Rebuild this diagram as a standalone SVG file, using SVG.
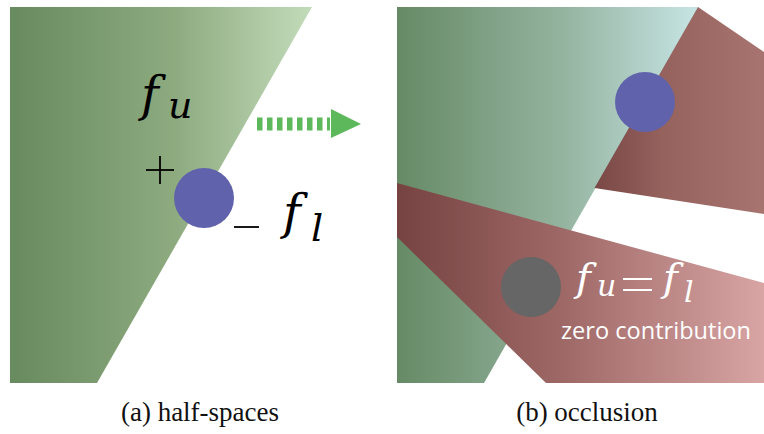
<svg xmlns="http://www.w3.org/2000/svg" width="764" height="434" viewBox="0 0 764 434">
  <defs>
    <linearGradient id="gA" gradientUnits="userSpaceOnUse" x1="10" y1="0" x2="312" y2="0">
      <stop offset="0" stop-color="#678a5e"/>
      <stop offset="0.55" stop-color="#8eab80"/>
      <stop offset="1" stop-color="#c2dcba"/>
    </linearGradient>
    <linearGradient id="gB" gradientUnits="userSpaceOnUse" x1="397" y1="0" x2="702" y2="0">
      <stop offset="0" stop-color="#668a65"/>
      <stop offset="0.55" stop-color="#95b4a0"/>
      <stop offset="1" stop-color="#c8e6e6"/>
    </linearGradient>
    <linearGradient id="rUp" gradientUnits="userSpaceOnUse" x1="596" y1="0" x2="764" y2="0">
      <stop offset="0" stop-color="#7a4845"/>
      <stop offset="0.4" stop-color="#95625e"/>
      <stop offset="1" stop-color="#a87470"/>
    </linearGradient>
    <linearGradient id="rLo" gradientUnits="userSpaceOnUse" x1="397" y1="0" x2="764" y2="0">
      <stop offset="0" stop-color="#764342"/>
      <stop offset="0.45" stop-color="#9e6866"/>
      <stop offset="1" stop-color="#d8a5a4"/>
    </linearGradient>
  </defs>
  <style>
    .math { font-family: "DejaVu Serif", "Liberation Serif", serif; font-style: italic; }
    .cap { font-family: "Liberation Serif", "DejaVu Serif", serif; font-size: 27px; fill: #111; }
    .sym { stroke: #000; stroke-width: 1.8; fill: none; }
  </style>

  <g id="panel-a">
    <g id="halfspace-a">
      <polygon points="10,7 312,7 97,383 10,383" fill="url(#gA)"/>
    </g>
    <g id="point-a">
      <circle cx="204" cy="198" r="30" fill="#6063ac"/>
    </g>
    <g id="label-fu">
      <text class="math" x="141" y="111" font-size="48" fill="#000">f</text>
      <text class="math" x="168" y="118" font-size="38" fill="#000">u</text>
    </g>
    <g id="label-plus">
      <line class="sym" x1="146" y1="170" x2="174" y2="170"/>
      <line class="sym" x1="160" y1="156" x2="160" y2="184"/>
    </g>
    <g id="label-minus">
      <line class="sym" x1="234" y1="227" x2="259" y2="227"/>
    </g>
    <g id="label-fl">
      <text class="math" x="283" y="229" font-size="48" fill="#000">f</text>
      <text class="math" x="311" y="241" font-size="38" fill="#000">l</text>
    </g>
    <text class="cap" x="200" y="421" text-anchor="middle">(a) half-spaces</text>
  </g>

  <g id="connectors">
    <line x1="257" y1="124" x2="330" y2="124" stroke="#5cb85a" stroke-width="13" stroke-dasharray="5.5,4.5"/>
    <path d="M331,109 L361,124 L331,138 Z" fill="#5cb85a"/>
  </g>

  <g id="panel-b">
    <g id="halfspace-b">
      <polygon points="397,7 699,7 484,383 397,383" fill="url(#gB)"/>
    </g>
    <g id="occluder-upper">
      <polygon points="698,7 764,52 764,214 594.5,188" fill="url(#rUp)"/>
    </g>
    <g id="occluder-lower">
      <polygon points="397,183 764,283 764,383 546,383 397,237" fill="url(#rLo)"/>
    </g>
    <g id="point-b">
      <circle cx="645" cy="102" r="30" fill="#6063ac"/>
    </g>
    <g id="point-occluded">
      <circle cx="531" cy="287" r="30" fill="#666666"/>
    </g>
    <g id="label-eq">
      <text class="math" x="576" y="291" font-size="40" fill="#fff">f</text>
      <text class="math" x="597" y="296" font-size="30" fill="#fff">u</text>
      <line x1="623" y1="279" x2="652" y2="279" stroke="#fff" stroke-width="2"/>
      <line x1="623" y1="290" x2="652" y2="290" stroke="#fff" stroke-width="2"/>
      <text class="math" x="663" y="291" font-size="40" fill="#fff">f</text>
      <text class="math" x="684" y="302" font-size="30" fill="#fff">l</text>
    </g>
    <text x="561" y="339" font-family="'Open Sans', 'Noto Sans', sans-serif" font-size="23" fill="#fff" textLength="190" lengthAdjust="spacingAndGlyphs">zero contribution</text>
    <text class="cap" x="587" y="421" text-anchor="middle">(b) occlusion</text>
  </g>
</svg>
